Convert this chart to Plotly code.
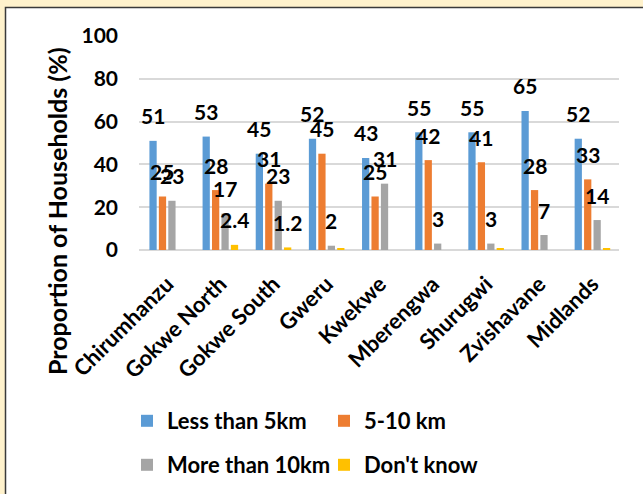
import plotly.graph_objects as go

# Districts of Midlands province and the distance categories
districts = ["Chirumhanzu", "Gokwe North", "Gokwe South", "Gweru", "Kwekwe",
             "Mberengwa", "Shurugwi", "Zvishavane", "Midlands"]
series_names = ["Less than 5km", "5-10 km", "More than 10km", "Don't know"]

less_than_5km = [51, 53, 45, 52, 43, 55, 55, 65, 52]
km_5_10 = [25, 28, 31, 45, 25, 42, 41, 28, 33]
more_than_10km = [23, 17, 23, 2, 31, 3, 3, 7, 14]
dont_know = [0, 2.4, 1.2, 0.6, 0, 0, 0.6, 0, 0.6]

y_ticks = [0, 20, 40, 60, 80, 100]

colors = ["#5B9BD5", "#ED7D31", "#A5A5A5", "#FFC000"]
all_series = [less_than_5km, km_5_10, more_than_10km, dont_know]

W, H = 643, 494
ML, MR, MT, MB = 139, 24, 36, 244
plot_w = W - ML - MR
plot_h = H - MT - MB

FONT = "Lato"
BARGAP = 0.29
BARGROUPGAP = 0.23

fig = go.Figure()

legend_ids = ["legend", "legend2", "legend3", "legend4"]
for name, vals, col, lg in zip(series_names, all_series, colors, legend_ids):
    fig.add_trace(go.Bar(x=districts, y=vals, name=name, marker_color=col,
                         marker_line_width=0, legend=lg))

# value labels sit a little above each bar
cat_px = plot_w / len(districts)
slot_px = (1 - BARGAP) * cat_px / len(all_series)
annotations = []
for k, vals in enumerate(all_series):
    for d, v in zip(districts, vals):
        if k == 3 and v < 1:
            continue
        annotations.append(dict(
            x=d, y=v, xref="x", yref="y", text=f"{v:g}", showarrow=False,
            xshift=(k - 1.5) * slot_px, yshift=25, yanchor="middle",
            font=dict(family=FONT, size=21, color="#000000", weight="bold")))

# y-axis title
annotations.append(dict(
    x=(57 - ML) / plot_w, y=(MT + plot_h - 211) / plot_h, xref="paper", yref="paper",
    text="Proportion of Households (%)", textangle=-90, showarrow=False,
    xanchor="center", yanchor="middle",
    font=dict(family=FONT, size=25, color="#000000", weight="bold")))

def legend_pos(px, py):
    return dict(x=(px - ML) / plot_w, y=(MT + plot_h - py) / plot_h,
                xanchor="left", yanchor="middle", orientation="h",
                bgcolor="rgba(0,0,0,0)", borderwidth=0,
                font=dict(family=FONT, size=22, color="#000000", weight="bold"))

shapes = [
    # cream page edge with dark border around the chart area
    dict(type="rect", xref="paper", yref="paper",
         x0=-ML / plot_w, x1=(W - ML) / plot_w, y0=(MT + plot_h - H) / plot_h,
         y1=(MT + plot_h) / plot_h, fillcolor="#FFF2CC", line_width=0, layer="below"),
    dict(type="rect", xref="paper", yref="paper",
         x0=(5.5 - ML) / plot_w, x1=(W + 20 - ML) / plot_w,
         y0=(MT + plot_h - H - 20) / plot_h, y1=(MT + plot_h - 7.5) / plot_h,
         fillcolor="#FFFFFF", line=dict(color="#3A3A3A", width=1.5), layer="below"),
]

fig.update_layout(
    width=W, height=H,
    margin=dict(l=ML, r=MR, t=MT, b=MB, autoexpand=False),
    paper_bgcolor="#FFFFFF", plot_bgcolor="rgba(0,0,0,0)",
    barmode="group", bargap=BARGAP, bargroupgap=BARGROUPGAP,
    showlegend=True,
    legend=legend_pos(127, 421),
    legend2=legend_pos(324, 421),
    legend3=legend_pos(127, 465),
    legend4=legend_pos(324, 465),
    annotations=annotations,
    shapes=shapes,
    xaxis=dict(tickangle=-45, showgrid=False, showline=False, ticks="",
               ticklabelstandoff=16,
               tickfont=dict(family=FONT, size=22, color="#000000", weight="bold")),
    yaxis=dict(range=[0, 100], tickvals=y_ticks, showgrid=True,
               gridcolor="#D9D9D9", gridwidth=1.5, zeroline=True,
               zerolinecolor="#D9D9D9", zerolinewidth=2, showline=False, ticks="",
               ticklabelstandoff=20,
               tickfont=dict(family=FONT, size=21, color="#000000", weight="bold")),
)

fig.write_html("out.html")
